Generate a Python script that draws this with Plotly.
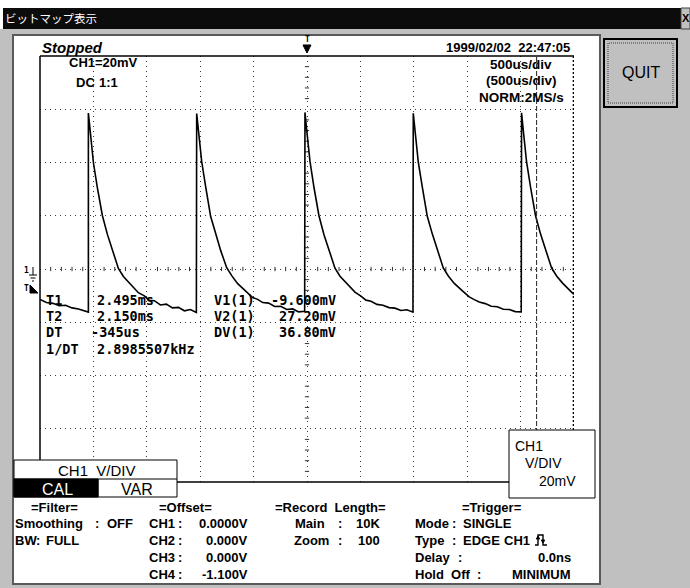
import plotly.graph_objects as go

W, H = 690, 588

time_ms = [
    # tail of the sweep before the first rising edge
    -2.500, -2.440, -2.380, -2.320, -2.260, -2.200, -2.140, -2.090, -2.047,
    # period 1
    -2.047, -2.028, -2.000, -1.963, -1.916, -1.869, -1.822, -1.766, -1.719, -1.663, -1.579,
    -1.523, -1.476, -1.429, -1.373, -1.317, -1.260, -1.204, -1.148, -1.092, -1.036,
    # period 2
    -1.033, -1.014, -0.986, -0.949, -0.902, -0.855, -0.808, -0.752, -0.705, -0.649, -0.565,
    -0.509, -0.462, -0.415, -0.359, -0.303, -0.246, -0.190, -0.134, -0.078, -0.022,
    # period 3
    -0.019, 0.000, 0.028, 0.065, 0.112, 0.159, 0.206, 0.262, 0.309, 0.365, 0.449,
    0.505, 0.552, 0.599, 0.655, 0.711, 0.768, 0.824, 0.880, 0.936, 0.992,
    # period 4
    0.995, 1.014, 1.042, 1.079, 1.126, 1.173, 1.220, 1.276, 1.323, 1.379, 1.463,
    1.519, 1.566, 1.613, 1.669, 1.725, 1.782, 1.838, 1.894, 1.950, 2.006,
    # period 5 (cut by the right edge)
    2.009, 2.028, 2.056, 2.093, 2.140, 2.187, 2.234, 2.290, 2.337, 2.393, 2.477, 2.500,
]
ch1_mv = [
    -11.4, -12.6, -12.9, -13.8, -13.6, -14.6, -15.0, -15.7, -16.2,
    58.6, 51.2, 40.0, 30.6, 20.1, 13.0, 7.3, 0.2, -2.8, -5.1, -8.9,
    -10.1, -11.8, -11.9, -13.5, -13.2, -14.6, -14.4, -15.7, -15.2, -16.3,
    58.4, 50.8, 40.3, 30.9, 19.7, 13.3, 6.9, 0.5, -2.5, -5.5, -8.4,
    -10.7, -11.4, -12.6, -12.8, -14.1, -14.0, -15.2, -15.0, -16.1, -15.9,
    58.8, 51.1, 40.4, 30.7, 20.0, 12.9, 7.2, 0.3, -2.7, -5.2, -8.7,
    -10.2, -11.7, -12.1, -13.3, -13.6, -14.5, -14.7, -15.6, -15.3, -16.2,
    58.5, 50.9, 40.1, 30.9, 19.8, 13.2, 7.0, 0.4, -2.6, -5.4, -8.5,
    -10.5, -11.5, -12.4, -13.0, -14.0, -14.2, -15.1, -15.2, -16.0, -16.1,
    58.7, 51.0, 40.2, 30.8, 20.0, 13.1, 7.1, 0.4, -2.6, -5.3, -8.7, -9.5,
]

cursor_t1_ms = 2.495
cursor_t2_ms = 2.150

readout_labels = ["T1", "T2", "DT", "1/DT"]
readout_values = ["2.495ms", "2.150ms", "-345us", "2.8985507kHz"]
volt_labels = ["V1(1)", "V2(1)", "DV(1)"]
volt_values = ["-9.600mV", "27.20mV", "36.80mV"]

header_left = ["CH1=20mV", "DC", "1:1"]
header_right = ["500us/div", "(500us/div)", "NORM:2MS/s"]
status_text = "Stopped"
timestamp_text = "1999/02/02  22:47:05"
window_title = "ビットマップ表示"

offset_channels = ["CH1", "CH2", "CH3", "CH4"]
offset_values = ["0.0000V", "0.000V", "0.000V", "-1.100V"]

# ---------------- helpers (pixel -> paper) ----------------
def fx(px):
    return px / W

def fy(py):
    return 1 - py / H

SANS = "Liberation Sans, Arial, sans-serif"
MONO = "DejaVu Sans Mono, monospace"
CJK = "Noto Sans CJK JP, sans-serif"

shapes = []
annots = []

def rect(x0, y0, x1, y1, fill=None, line=None, width=1, layer="below", dash=None):
    d = dict(type="rect", xref="paper", yref="paper",
             x0=fx(x0), x1=fx(x1), y0=fy(y1), y1=fy(y0), layer=layer,
             line=dict(color=line if line else "rgba(0,0,0,0)", width=width if line else 0))
    if dash:
        d["line"]["dash"] = dash
    if fill:
        d["fillcolor"] = fill
    shapes.append(d)

def line(x0, y0, x1, y1, color="black", width=1, layer="above", dash=None):
    d = dict(type="line", xref="paper", yref="paper",
             x0=fx(x0), x1=fx(x1), y0=fy(y0), y1=fy(y1), layer=layer,
             line=dict(color=color, width=width))
    if dash:
        d["line"]["dash"] = dash
    shapes.append(d)

def path(pts, fill="black", color="black", width=1, closed=True, layer="above"):
    s = "M" + " L".join(f"{fx(x):.5f},{fy(y):.5f}" for x, y in pts)
    if closed:
        s += " Z"
    d = dict(type="path", xref="paper", yref="paper", path=s, layer=layer,
             line=dict(color=color, width=width))
    if closed and fill:
        d["fillcolor"] = fill
    shapes.append(d)

def text(s, x, y, anchor="left", size=13, family=SANS, color="black",
         weight="bold", style="normal"):
    annots.append(dict(text=s, xref="paper", yref="paper", x=fx(x), y=fy(y),
                       xanchor=anchor, yanchor="middle", showarrow=False,
                       font=dict(family=family, size=size, color=color,
                                 weight=weight, style=style)))

# ---------------- window chrome ----------------
rect(0, 29, 690, 588, fill="#c0c0c0")
rect(3, 8, 681, 29, fill="#0c0c0c")
rect(681, 8, 690, 29, fill="#c0c0c0", line="#404040")
text("X", 686, 18, anchor="center", size=11, weight="bold")
text(window_title, 3, 18, size=11.5, family=CJK, color="white", weight="normal")

rect(13, 35, 600, 584, fill="white", line="#5a5a5a", width=2)

# QUIT button
rect(604, 39, 677, 107, fill="#c0c0c0", line="black", width=2)
rect(608, 43, 673, 103, line="#404040", width=1, dash="1px,1px")
text("QUIT", 641, 73, anchor="center", size=16, weight="normal")

# ---------------- plot frame ----------------
line(40, 56, 40, 482, width=1.5)
line(40, 56, 574, 56, width=1.5)
line(40, 482, 574, 482, width=1.5)

# cursors (data coordinates)
shapes.append(dict(type="line", xref="x", yref="y", x0=cursor_t1_ms, x1=cursor_t1_ms,
                   y0=-80, y1=80, layer="above",
                   line=dict(color="black", width=1.6, dash="2px,2px")))
shapes.append(dict(type="line", xref="x", yref="y", x0=cursor_t2_ms, x1=cursor_t2_ms,
                   y0=-80, y1=80, layer="above",
                   line=dict(color="#222", width=1, dash="5px,2px")))

# centre-line minor ticks (graticule decoration)
for k in range(-25, 26):
    if k % 5 == 0:
        continue
    shapes.append(dict(type="line", xref="x", yref="y", x0=k * 0.1, x1=k * 0.1,
                       y0=-0.8, y1=0.8, layer="below",
                       line=dict(color="#333", width=1)))
for k in range(-20, 21):
    if k % 5 == 0:
        continue
    shapes.append(dict(type="line", xref="x", yref="y", x0=-0.02, x1=0.02,
                       y0=k * 4, y1=k * 4, layer="below",
                       line=dict(color="#333", width=1)))

# trigger position marker (top)
text("T", 307, 39, anchor="center", size=8, family=MONO)
path([(303, 45), (311, 45), (307, 53)])
# channel ground marker
text("1", 26, 270, anchor="center", size=8, family=MONO)
line(33, 267, 33, 275)
line(29, 275, 37, 275)
line(30.5, 278, 35.5, 278)
line(32, 281, 34, 281)
# trigger level marker
text("T", 26, 289, anchor="center", size=8, family=MONO)
path([(30, 285), (30, 293), (38, 293)])

# ---------------- header texts ----------------
text(status_text, 40, 47, size=15, weight="bold", style="italic")
text(timestamp_text, 572, 47, anchor="right", size=13)
text(header_left[0], 67, 63, size=13)
text(header_left[1], 74, 82, size=13)
text(header_left[2], 97, 82, size=13)
for s, yy in zip(header_right, [64, 81, 98]):
    text(s, 521, yy, anchor="center", size=13.5)

# ---------------- cursor readouts ----------------
rows = [300, 316, 332, 349]
for lab, val, yy in zip(readout_labels, readout_values, rows):
    text(lab, 44, yy, size=13.5, family=MONO)
    text(val, 89 if val.startswith("-") else 95, yy, size=13.5, family=MONO)
for lab, val, yy in zip(volt_labels, volt_values, rows):
    text(lab, 212, yy, size=13.5, family=MONO)
    text(val, 338, yy, anchor="right", size=13.5, family=MONO)

# ---------------- V/DIV boxes ----------------
rect(14, 460, 177, 497, fill="white", line="black", width=1, layer="above")
rect(14, 479, 98, 497, fill="black", line="black", width=1, layer="above")
line(14, 479, 177, 479)
line(98, 479, 98, 497)
text("CH1  V/DIV", 97, 470, anchor="center", size=15, weight="normal")
text("CAL", 57, 489, anchor="center", size=16, color="white", weight="normal")
text("VAR", 137, 489, anchor="center", size=16, weight="normal")

rect(509, 430, 595, 498, fill="white", line="black", width=1, layer="above")
text("CH1", 513, 446, size=14, weight="normal")
text("V/DIV", 523, 463, size=14, weight="normal")
text("20mV", 537, 481, size=14, weight="normal")

# ---------------- bottom status block ----------------
R = [507, 523, 540, 557, 574]
BS = 13
text("=Filter=", 55, R[0], anchor="center", size=BS)
text("Smoothing", 13, R[1], size=BS); text(":", 97, R[1], anchor="center", size=BS); text("OFF", 105, R[1], size=BS)
text("BW", 13, R[2], size=BS); text(":", 38, R[2], anchor="center", size=BS); text("FULL", 44, R[2], size=BS)

text("=Offset=", 185, R[0], anchor="center", size=BS)
for ch, val, yy in zip(offset_channels, offset_values, R[1:]):
    text(ch, 147, yy, size=BS); text(":", 180, yy, anchor="center", size=BS)
    text(val, 250, yy, anchor="right", size=BS)

text("=Record  Length=", 330, R[0], anchor="center", size=BS)
text("Main", 293, R[1], size=BS); text(":", 340, R[1], anchor="center", size=BS); text("10K", 382, R[1], anchor="right", size=BS)
text("Zoom", 292, R[2], size=BS); text(":", 340, R[2], anchor="center", size=BS); text("100", 382, R[2], anchor="right", size=BS)

text("=Trigger=", 492, R[0], anchor="center", size=BS)
text("Mode", 413, R[1], size=BS); text(":", 454, R[1], anchor="center", size=BS); text("SINGLE", 461, R[1], size=BS)
text("Type", 413, R[2], size=BS); text(":", 454, R[2], anchor="center", size=BS)
text("EDGE", 461, R[2], size=BS); text("CH1", 502, R[2], size=BS)
path([(535, 545), (538, 545), (538, 535), (543, 535), (543, 545), (547, 545)],
     fill=None, closed=False, width=1.4)
path([(536.3, 539), (539.7, 539), (538, 536)])
path([(541.3, 540), (544.7, 540), (543, 543)])
text("Delay", 413, R[3], size=BS); text(":", 460, R[3], anchor="center", size=BS)
text("0.0ns", 573, R[3], anchor="right", size=BS)
text("Hold  Off", 413, R[4], size=BS); text(":", 479, R[4], anchor="center", size=BS)
text("MINIMUM", 573, R[4], anchor="right", size=BS)

# ---------------- figure ----------------
fig = go.Figure()
fig.add_trace(go.Scatter(x=time_ms, y=ch1_mv, mode="lines",
                         line=dict(color="black", width=1.6), hoverinfo="skip",
                         showlegend=False))

grid = dict(showgrid=True, gridcolor="#3a3a3a", gridwidth=1, griddash="1px,4px",
            zeroline=False, showticklabels=False, ticks="", showline=False,
            fixedrange=True)
fig.update_layout(
    width=W, height=H, autosize=False,
    margin=dict(l=0, r=0, t=0, b=0, pad=0),
    paper_bgcolor="white", plot_bgcolor="white",
    xaxis=dict(range=[-2.5, 2.5], dtick=0.5, tick0=0,
               domain=[40 / W, 574 / W], **grid),
    yaxis=dict(range=[-80, 80], dtick=20, tick0=0,
               domain=[1 - 482 / H, 1 - 56 / H], **grid),
    shapes=shapes, annotations=annots, showlegend=False,
)
fig.write_html("out.html", config={"displayModeBar": False})

# remove the browser's default page margin so the figure sits at (0, 0)
with open("out.html", encoding="utf-8") as f:
    html = f.read()
html = html.replace("<head>", "<head><style>html,body{margin:0;padding:0;overflow:hidden;}</style>", 1)
with open("out.html", "w", encoding="utf-8") as f:
    f.write(html)
